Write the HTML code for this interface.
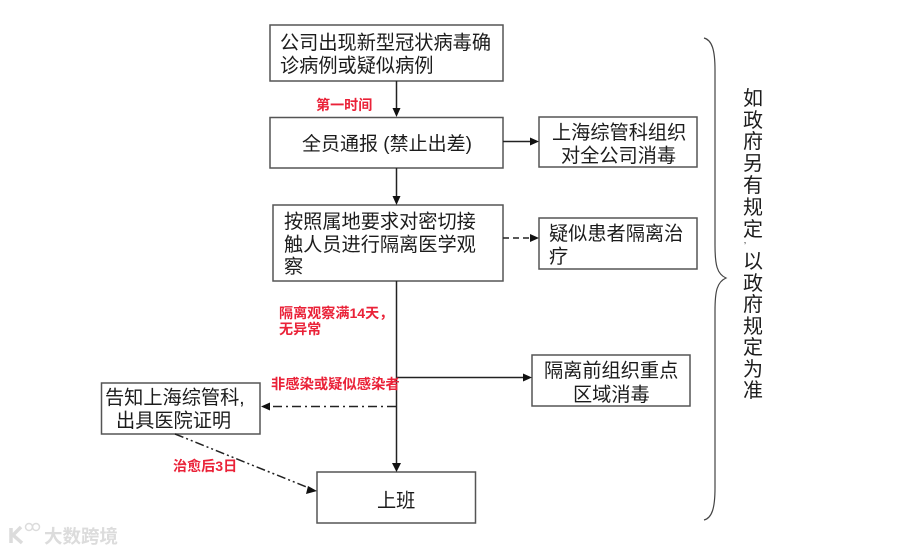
<!DOCTYPE html>
<html><head><meta charset="utf-8">
<style>
html,body{margin:0;padding:0;background:#fff;width:900px;height:553px;overflow:hidden}
svg{display:block;filter:blur(.35px)}
text{font-family:"Liberation Sans","Noto Sans CJK SC",sans-serif}
.t{font-size:19.2px;fill:#1c1c1c}
.r{font-size:14.100px;font-weight:700;fill:#ea2238}
rect{fill:#fff;stroke:#555;stroke-width:1.5}
.l{stroke:#222;stroke-width:1.5;fill:none}
.a{fill:#111}
</style></head><body>
<svg width="900" height="553" viewBox="0 0 900 553" xmlns="http://www.w3.org/2000/svg">
<rect x="270" y="25" width="233" height="56"/>
<rect x="270" y="117.500" width="233" height="50.500"/>
<rect x="539" y="117" width="158" height="50"/>
<rect x="273" y="205" width="230" height="76"/>
<rect x="539" y="218" width="158" height="51"/>
<rect x="532" y="355" width="158" height="51"/>
<rect x="101.500" y="383" width="158.500" height="51"/>
<rect x="317" y="472" width="158.500" height="51"/>

<path class="l" d="M396.500 81V110M396.500 168V198M396.500 281V465M396.500 377.500H525M503 141.500H532"/>
<path class="a" d="M392.500 108h8l-4 9zM392.500 196h8l-4 9zM392 463h9l-4.500 9zM523 373.500v8l9-4zM530 137.500v8l9-4zM530 234v8l9-4zM261 406.500l9-4v8zM317 491l-9-5-2 8z"/>
<path class="l" d="M503 238H531" stroke-dasharray="6 4"/>
<path class="l" d="M396 406.500H268" stroke-dasharray="9 4 2 4"/>
<path class="l" d="M175 434L309 488" stroke-dasharray="9 3 2 3 2 3"/>
<path d="M704 38C712 40 715 50 715 70V245C715 265 717 274 726 278C717 282 715 291 715 311V488C715 508 712 518 704 520" fill="none" stroke="#444" stroke-width="1.200"/>

<text class="t" x="280" y="49">公司出现新型冠状病毒确</text>
<text class="t" x="280" y="72">诊病例或疑似病例</text>
<text class="t" x="302" y="150" style="font-size:19px">全员通报 (禁止出差)</text>
<text class="t" x="552" y="139">上海综管科组织</text>
<text class="t" x="561" y="162">对全公司消毒</text>
<text class="t" x="284" y="228">按照属地要求对密切接</text>
<text class="t" x="284" y="251">触人员进行隔离医学观</text>
<text class="t" x="284" y="273">察</text>
<text class="t" x="549" y="240">疑似患者隔离治</text>
<text class="t" x="549" y="263">疗</text>
<text class="t" x="544" y="377">隔离前组织重点</text>
<text class="t" x="573" y="401">区域消毒</text>
<text class="t" x="105" y="404">告知上海综管科,</text>
<text class="t" x="116" y="427">出具医院证明</text>
<text class="t" x="377" y="507">上班</text>

<text class="r" x="316" y="110">第一时间</text>
<text class="r" x="279" y="318">隔离观察满14天，</text>
<text class="r" x="279" y="334">无异常</text>
<text class="r" x="271" y="389" style="font-size:14.300px">非感染或疑似感染者</text>
<text class="r" x="173" y="471">治愈后3日</text>

<g class="t" text-anchor="middle" style="font-size:20px">
<text x="753" y="105">如</text>
<text x="753" y="127">政</text>
<text x="753" y="148">府</text>
<text x="753" y="170">另</text>
<text x="753" y="192">有</text>
<text x="753" y="214">规</text>
<text x="753" y="236">定</text>
<text x="745" y="243" style="font-size:9px">,</text>
<text x="753" y="268">以</text>
<text x="753" y="290">政</text>
<text x="753" y="311">府</text>
<text x="753" y="333">规</text>
<text x="753" y="354">定</text>
<text x="753" y="376">为</text>
<text x="753" y="397">准</text>
</g>

<text x="44" y="543" style="font-size:18.500px;font-weight:700;fill:#dcdcdc">大数跨境</text>
<path d="M11 528v15M21 527l-8 8 9 8" fill="none" stroke="#dcdcdc" stroke-width="3.500"/>
<circle cx="29" cy="527" r="3.500" fill="none" stroke="#dcdcdc" stroke-width="1.500"/>
<circle cx="36" cy="527" r="3.500" fill="none" stroke="#dcdcdc" stroke-width="1.500"/>
</svg>
</body></html>
